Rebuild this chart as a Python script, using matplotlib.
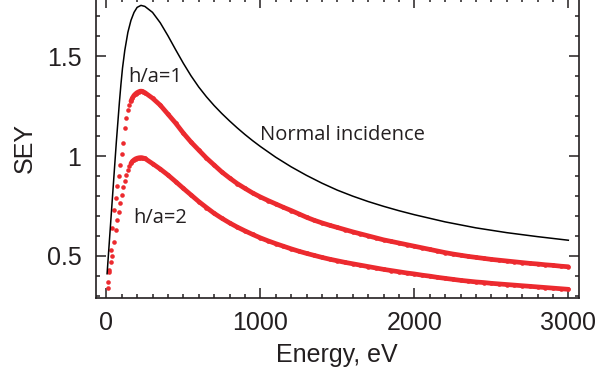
import numpy as np
import matplotlib
matplotlib.use('Agg')
import matplotlib.pyplot as plt
from matplotlib.ticker import MultipleLocator, FuncFormatter

# normal incidence (black line)
energy_ni = [5, 15, 25, 35, 45, 55, 65, 75, 85, 95, 105, 120, 140, 160, 180, 200, 225, 250,
             300, 350, 400, 450, 500, 550, 600, 650, 700, 750, 800, 850, 900, 950, 1000,
             1100, 1200, 1300, 1400, 1500, 1600, 1700, 1800, 1900, 2000, 2200, 2400, 2600, 2800, 3000]
sey_ni = [0.41, 0.52, 0.63, 0.74, 0.85, 0.96, 1.07, 1.17, 1.27, 1.36, 1.44, 1.53, 1.62, 1.68, 1.72, 1.745,
          1.755, 1.750, 1.720, 1.668, 1.603, 1.533, 1.465, 1.402, 1.346, 1.297, 1.253, 1.213, 1.176,
          1.141, 1.108, 1.077, 1.048, 0.994, 0.946, 0.903, 0.864, 0.829, 0.799, 0.772, 0.748, 0.726,
          0.706, 0.670, 0.640, 0.616, 0.596, 0.578]

# measured energies for the two grooved surfaces
energy_meas = [10, 20, 30, 40, 50, 60, 70, 80, 90, 100, 110, 120, 130, 140, 150, 160, 170, 180, 190, 200,
               210, 220, 230, 240, 250,
               300, 350, 400, 450, 500, 550, 600, 650, 700, 750, 800, 850, 900, 950, 1000,
               1050, 1100, 1150, 1200, 1250, 1300, 1350, 1400, 1450, 1500, 1550, 1600, 1650, 1700, 1750,
               1800, 1850, 1900, 1950, 2000, 2050, 2100, 2150, 2200, 2250, 2300, 2350, 2400, 2450, 2500,
               2550, 2600, 2650, 2700, 2750, 2800, 2850, 2900, 2950, 3000]

# h/a = 1
sey_ha1 = [0.34, 0.42, 0.53, 0.64, 0.73, 0.79, 0.85, 0.90, 0.955, 1.01, 1.065, 1.14, 1.19, 1.23, 1.255,
           1.275, 1.292, 1.304, 1.312, 1.318, 1.322, 1.325, 1.325, 1.322, 1.318,
           1.29, 1.255, 1.21, 1.165, 1.115, 1.07, 1.03, 0.99, 0.955, 0.92, 0.89, 0.862, 0.838, 0.815, 0.795,
           0.777, 0.76, 0.743, 0.727, 0.71, 0.693, 0.678, 0.665, 0.653, 0.642, 0.631, 0.62, 0.61, 0.60, 0.59,
           0.58, 0.572, 0.564, 0.556, 0.548, 0.540, 0.532, 0.524, 0.516, 0.509, 0.503, 0.497, 0.492, 0.487,
           0.482, 0.478, 0.474, 0.470, 0.466, 0.462, 0.459, 0.455, 0.452, 0.448, 0.445]

# h/a = 2
sey_ha2 = [0.37, 0.43, 0.47, 0.50, 0.57, 0.63, 0.68, 0.72, 0.765, 0.805, 0.843, 0.877, 0.905, 0.93, 0.948,
           0.963, 0.974, 0.981, 0.986, 0.989, 0.991, 0.992, 0.992, 0.99, 0.988,
           0.962, 0.935, 0.905, 0.872, 0.838, 0.805, 0.772, 0.742, 0.713, 0.688, 0.665, 0.644, 0.625, 0.607, 0.59,
           0.575, 0.561, 0.548, 0.535, 0.523, 0.512, 0.502, 0.492, 0.483, 0.475, 0.467, 0.46, 0.453, 0.446, 0.439,
           0.432, 0.426, 0.42, 0.414, 0.409, 0.403, 0.398, 0.392, 0.387, 0.382, 0.377, 0.373, 0.369, 0.366,
           0.362, 0.359, 0.356, 0.353, 0.35, 0.347, 0.344, 0.341, 0.338, 0.335, 0.332]

red = '#ec2a2f'
ink = '#231f20'

plt.rcParams['font.family'] = ['Liberation Sans', 'DejaVu Sans']

fig = plt.figure(figsize=(5.98, 3.78), dpi=100)
ax = fig.add_axes([96 / 598, 80.5 / 378, 482.5 / 598, 299.5 / 378])

e = np.array(energy_meas)
band = e >= 160
for s in (sey_ha1, sey_ha2):
    s = np.array(s)
    ax.plot(e, s, 'o', ms=3.3, mec='none', mfc=red)
    ax.plot(e[band], s[band], '-', lw=3.4, color=red, solid_capstyle='round')

ax.plot(energy_ni, sey_ni, '-', lw=1.1, color='black')

ax.set_xlim(-67, 3066)
ax.set_ylim(0.291, 1.792)

ax.xaxis.set_major_locator(MultipleLocator(1000))
ax.xaxis.set_minor_locator(MultipleLocator(100))
ax.yaxis.set_major_locator(MultipleLocator(0.5))
ax.yaxis.set_minor_locator(MultipleLocator(0.1))
ax.yaxis.set_major_formatter(FuncFormatter(lambda v, p: '%g' % v))

ax.tick_params(which='both', direction='in', top=True, right=True, width=1.1, color=ink,
               labelsize=18, labelcolor=ink)
ax.tick_params(which='major', length=7.2)
ax.tick_params(which='minor', length=3.2)
ax.tick_params(axis='x', pad=9.5)
ax.tick_params(axis='y', pad=10.5)
for sp in ax.spines.values():
    sp.set_linewidth(1.2)
    sp.set_color(ink)

ax.set_xlabel('Energy, eV', fontsize=18, color=ink)
ax.set_ylabel('SEY', fontsize=18, color=ink)
ax.xaxis.set_label_coords(0.5, -0.152)
ax.yaxis.set_label_coords(-0.122, 0.5)

ann = dict(fontsize=14.5, color=ink, family=['Open Sans', 'DejaVu Sans'], va='baseline', ha='left')
ax.text(141, 1.372, 'h/a=1', **ann)
ax.text(175, 0.666, 'h/a=2', **ann)
ax.text(998, 1.08, 'Normal incidence', **ann)

fig.savefig('out.png', dpi=100)
